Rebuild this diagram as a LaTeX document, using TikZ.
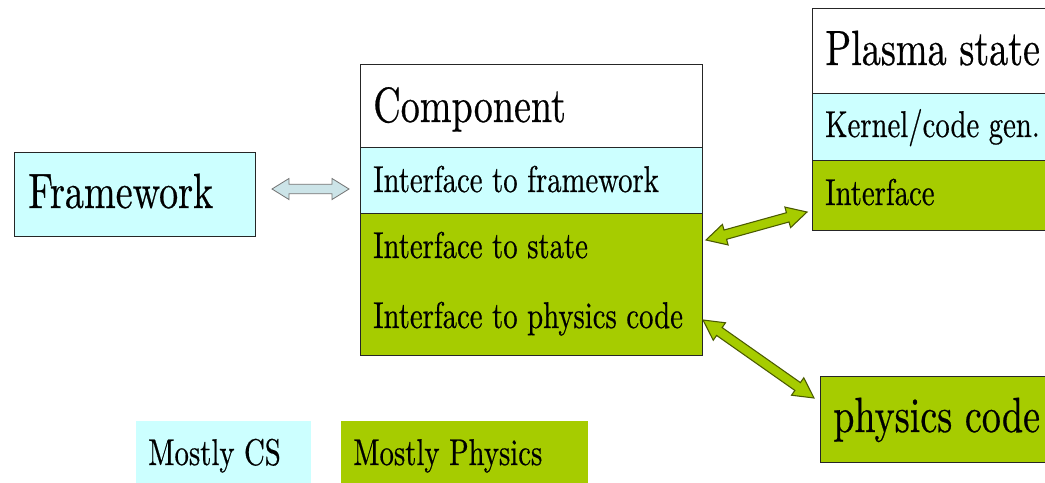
\documentclass[tikz,border=0pt]{standalone}
\usepackage{fontspec}
\newfontfamily\lmten{lmroman10-regular}[Extension=.otf, FakeBold=0.6]
\usetikzlibrary{calc}
\definecolor{csblue}{HTML}{CCFFFF}
\definecolor{physgreen}{HTML}{A6CC00}
\definecolor{greenedge}{HTML}{4A5A00}
\definecolor{paleblue}{HTML}{CCE4E8}
% condensed, tall serif lettering
\newcommand{\tall}[1]{\scalebox{0.94}[1.22]{#1}}
\newcommand{\bigtxt}{\lmten\fontsize{30.4}{36}\selectfont}
\newcommand{\smalltxt}{\lmten\fontsize{22.9}{28}\selectfont}
% fat double-headed arrow between two named points
% #1 style, #2/#3 tips, #4 head length, #5 head half-width, #6 shaft half-width
\newcommand{\fatarrow}[6]{%
  \draw[#1] (#2)
    -- ($(#2)!#4!(#3)!#5!90:(#3)$)
    -- ($(#2)!#4!(#3)!#6!90:(#3)$)
    -- ($(#3)!#4!(#2)!#6!-90:(#2)$)
    -- ($(#3)!#4!(#2)!#5!-90:(#2)$)
    -- (#3)
    -- ($(#3)!#4!(#2)!#5!90:(#2)$)
    -- ($(#3)!#4!(#2)!#6!90:(#2)$)
    -- ($(#2)!#4!(#3)!#6!-90:(#3)$)
    -- ($(#2)!#4!(#3)!#5!-90:(#3)$)
    -- cycle;}
\tikzset{
  cell/.style={draw=black!85, line width=1pt, inner sep=0pt, anchor=north west},
  swatch/.style={inner sep=0pt, anchor=north west},
  lbl/.style={inner sep=0pt, anchor=base west},
  greyarrow/.style={fill=paleblue, draw=black!55, line width=0.6pt, line join=miter},
  greenarrow/.style={fill=physgreen, draw=greenedge, line width=0.8pt, line join=miter}
}
\begin{document}
\begin{tikzpicture}[x=0.75pt, y=-0.75pt]
\useasboundingbox (0,0) rectangle (1045,482);
\fill[white] (0,0) rectangle (1045,482);
\clip (0,0) rectangle (1045,482);

% Framework
\node[cell, fill=csblue, minimum width=180.75pt, minimum height=63pt] (fw) at (14,152) {};
\node[lbl] (fwt) at (28,208) {\bigtxt\tall{Framework}};

% Component with its three compartments
\node[cell, fill=white, minimum width=256.5pt, minimum height=62.25pt] (comp) at (360,64) {};
\node[cell, fill=csblue, minimum width=256.5pt, minimum height=49.5pt] (compfw) at (360,147) {};
\node[cell, fill=physgreen, minimum width=256.5pt, minimum height=106.5pt] (compphys) at (360,213) {};
\node[lbl] (compt) at (373,122) {\bigtxt\tall{Component}};
\node[lbl] (ifw) at (373,192) {\smalltxt\tall{Interface to framework}};
\node[lbl] (ist) at (373,258) {\smalltxt\tall{Interface to state}};
\node[lbl] (iph) at (373,328) {\smalltxt\tall{Interface to physics code}};

% Plasma state
\node[cell, fill=white, minimum width=186pt, minimum height=63.75pt] (ps) at (812,8) {};
\node[cell, fill=csblue, minimum width=186pt, minimum height=50.25pt] (psk) at (812,93) {};
\node[cell, fill=physgreen, minimum width=186pt, minimum height=52.5pt] (psi) at (812,160) {};
\node[lbl] (pst) at (825,65) {\bigtxt\tall{Plasma state}};
\node[lbl] (pskt) at (825,137) {\smalltxt\tall{Kernel/code gen.}};
\node[lbl] (psit) at (825,205) {\smalltxt\tall{Interface}};

% physics code
\node[cell, fill=physgreen, minimum width=187.5pt, minimum height=64.5pt] (pc) at (820,376) {};
\node[lbl] (pct) at (833,432) {\bigtxt\tall{physics code}};

% legend
\node[swatch, fill=csblue, minimum width=131.25pt, minimum height=51.75pt] (lcs) at (136,421) {};
\node[swatch, fill=physgreen, minimum width=185.25pt, minimum height=51.75pt] (lph) at (341,421) {};
\node[lbl] (lcst) at (148,465) {\smalltxt\tall{Mostly CS}};
\node[lbl] (lpht) at (353,465) {\smalltxt\tall{Mostly Physics}};

% arrow ends
\coordinate (f1) at (272,189);
\coordinate (f2) at (349,189);
\coordinate (s1) at (706,240);
\coordinate (s2) at (807,212);
\coordinate (p1) at (703,320);
\coordinate (p2) at (814,398);

\fatarrow{greyarrow}{f1}{f2}{12.75pt}{7.9pt}{3.5pt}
\fatarrow{greenarrow}{s1}{s2}{15pt}{8pt}{3.6pt}
\fatarrow{greenarrow}{p1}{p2}{15pt}{8pt}{3.6pt}
\end{tikzpicture}
\end{document}
